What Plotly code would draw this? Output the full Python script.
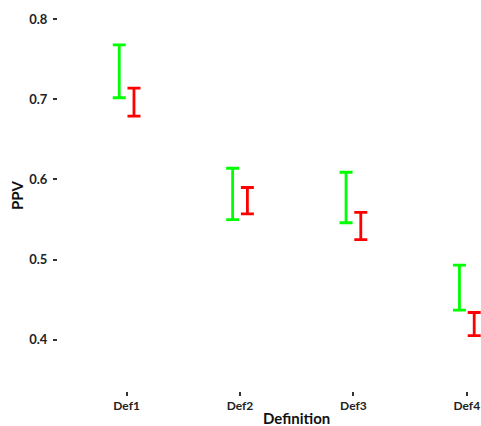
import plotly.graph_objects as go

categories = ["Def1", "Def2", "Def3", "Def4"]
green_lo = [0.702, 0.550, 0.546, 0.437]
green_hi = [0.768, 0.614, 0.609, 0.493]
red_lo = [0.679, 0.557, 0.525, 0.405]
red_hi = [0.714, 0.590, 0.559, 0.434]
y_ticks = [0.4, 0.5, 0.6, 0.7, 0.8]

dodge = 0.065
xs = list(range(1, len(categories) + 1))

fig = go.Figure()

def add_series(lo, hi, color, off):
    mid = [(a + b) / 2 for a, b in zip(lo, hi)]
    half = [(b - a) / 2 for a, b in zip(lo, hi)]
    fig.add_trace(go.Scatter(
        x=[x + off for x in xs], y=mid, mode="markers",
        marker=dict(size=1, opacity=0),
        error_y=dict(type="data", array=half, symmetric=True,
                     color=color, thickness=2.8, width=6.5),
        showlegend=False, hoverinfo="skip"))

add_series(green_lo, green_hi, "#00FF00", -dodge)
add_series(red_lo, red_hi, "#FF0000", dodge)

font_fam = "Lato, 'Open Sans', sans-serif"

fig.update_layout(
    width=481, height=426,
    margin=dict(l=58, r=0, t=0, b=35),
    plot_bgcolor="white", paper_bgcolor="white",
    font=dict(family=font_fam, color="#222"),
    xaxis=dict(range=[0.395, 4.125], tickvals=xs, ticktext=categories,
               showgrid=False, zeroline=False, showline=False,
               ticks="outside", ticklen=4, tickwidth=1.5, tickcolor="#333",
               tickfont=dict(size=12, family=font_fam, weight="bold", color="#222")),
    yaxis=dict(range=[0.336, 0.824], tickvals=y_ticks, tickformat=".1f",
               showgrid=False, zeroline=False, showline=False,
               ticks="outside", ticklen=4, tickwidth=1.8, tickcolor="#333",
               ticklabelstandoff=3,
               tickfont=dict(size=13, family=font_fam, weight="bold", color="#222"),
               title=dict(text="PPV", font=dict(size=15, family=font_fam, weight="bold", color="#111"),
                          standoff=1)),
)

fig.add_annotation(x=2.5, xref="x", y=-0.068, yref="paper", yanchor="middle",
                   text="Definition", showarrow=False,
                   font=dict(size=15, family=font_fam, weight="bold", color="#111"))

fig.write_html("out.html")
